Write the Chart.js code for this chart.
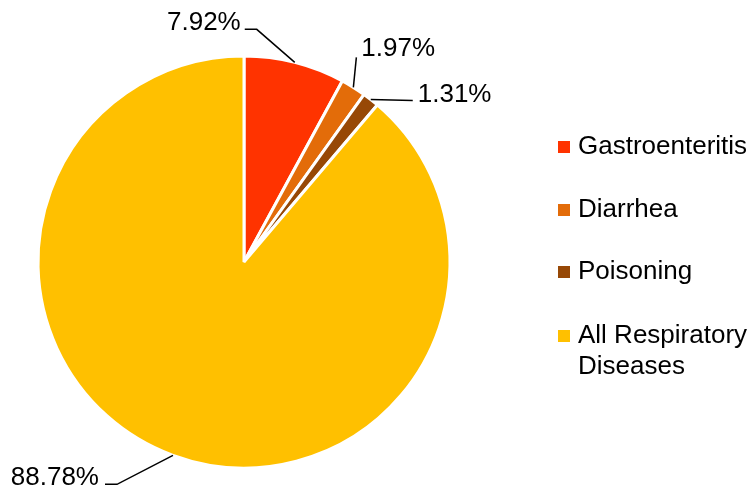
<!DOCTYPE html>
<html>
<head>
<meta charset="utf-8">
<script src="https://cdn.jsdelivr.net/npm/chart.js@4"></script>
<style>
  html, body { margin: 0; padding: 0; background: #fff; }
  #wrap { width: 754px; height: 490px; }
</style>
</head>
<body>
<div id="wrap"><canvas id="pie"></canvas></div>
<script>
const categories = ['Gastroenteritis', 'Diarrhea', 'Poisoning', 'All Respiratory Diseases'];
const shares = [7.92, 1.97, 1.31, 88.78];
const valueLabels = ['7.92%', '1.97%', '1.31%', '88.78%'];
const legendLines = [['Gastroenteritis'], ['Diarrhea'], ['Poisoning'], ['All Respiratory', 'Diseases']];
const colors = ['#FF3300', '#E36C09', '#974806', '#FFC000'];

const FONT = '26px "Liberation Sans", Arial, sans-serif';

// leader line bends (offsets from the slice edge) and where the text sits
const leaders = [
    { pts: [[-38, -33], [-50, -33]], align: 'right', tx: -54, ty: -32 },
    { pts: [[3, -30]], align: 'left', tx: 8, ty: -31 },
    { pts: [[42, 1]], align: 'left', tx: 47, ty: 2 },
    { pts: [[-56, 29], [-68, 29]], align: 'right', tx: -74, ty: 30 }
];

const labelPlugin = {
    id: 'labelPlugin',
    afterDraw(chart) {
        const ctx = chart.ctx;
        const arcs = chart.getDatasetMeta(0).data;
        ctx.save();
        ctx.font = FONT;
        ctx.fillStyle = '#000';
        ctx.strokeStyle = '#000';
        ctx.lineWidth = 1.5;
        arcs.forEach((arc, i) => {
            const p = arc.getProps(['x', 'y', 'startAngle', 'endAngle', 'outerRadius'], true);
            const mid = (p.startAngle + p.endAngle) / 2;
            const ex = p.x + Math.cos(mid) * p.outerRadius;
            const ey = p.y + Math.sin(mid) * p.outerRadius;
            const lead = leaders[i];
            ctx.beginPath();
            ctx.moveTo(ex, ey);
            lead.pts.forEach(pt => ctx.lineTo(ex + pt[0], ey + pt[1]));
            ctx.stroke();
            ctx.textAlign = lead.align;
            ctx.textBaseline = 'alphabetic';
            ctx.fillText(valueLabels[i], ex + lead.tx, ey + lead.ty);
        });

        // legend
        const rowY = [147, 210, 272, 336];
        ctx.textAlign = 'left';
        ctx.textBaseline = 'middle';
        legendLines.forEach((lines, i) => {
            ctx.fillStyle = colors[i];
            ctx.fillRect(558, rowY[i] - 6, 12, 12);
            ctx.fillStyle = '#000';
            lines.forEach((t, k) => ctx.fillText(t, 578, rowY[i] + k * 31));
        });
        ctx.restore();
    }
};

new Chart(document.getElementById('pie').getContext('2d'), {
    type: 'pie',
    data: {
        labels: categories,
        datasets: [{
            data: shares,
            backgroundColor: colors,
            borderColor: '#ffffff',
            borderWidth: 3,
            radius: 206
        }]
    },
    options: {
        responsive: true,
        maintainAspectRatio: false,
        animation: false,
        layout: { padding: { left: 38, right: 304, top: 56, bottom: 22 } },
        plugins: {
            legend: { display: false },
            tooltip: { enabled: false }
        }
    },
    plugins: [labelPlugin]
});
</script>
</body>
</html>
